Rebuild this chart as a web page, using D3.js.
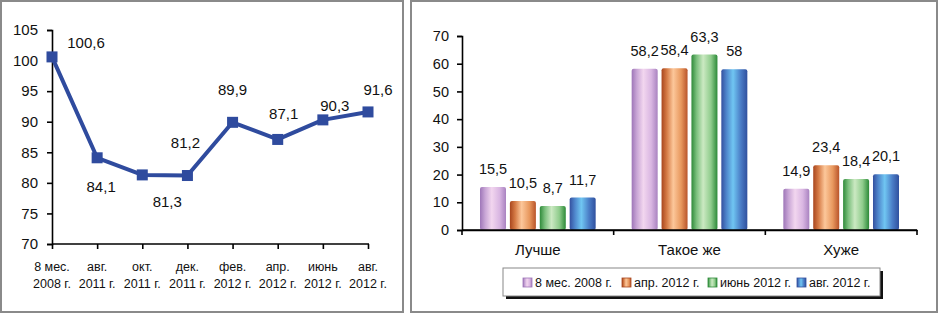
<!DOCTYPE html>
<html><head><meta charset="utf-8">
<script src="https://cdn.jsdelivr.net/npm/d3@7"></script>
<style>
html,body{margin:0;padding:0;background:#fff;}
svg{display:block;font-family:"Liberation Sans",Arial,sans-serif;}
</style></head>
<body>
<svg id="c" width="939" height="314"></svg>
<script>
// ---- Data: line chart ----
const lineCats = [["8 мес.","2008 г."],["авг.","2011 г."],["окт.","2011 г."],["дек.","2011 г."],["фев.","2012 г."],["апр.","2012 г."],["июнь","2012 г."],["авг.","2012 г."]];
const lineValues = [100.6, 84.1, 81.3, 81.2, 89.9, 87.1, 90.3, 91.6];
const lineTicks = [70, 75, 80, 85, 90, 95, 100, 105];
// label layout (offsets from point)
const lineLabelDx = [34, 4, 25, -2, 0, 6, 12, 10];
const lineLabelDy = [-14, 29, 27, -33, -32, -25, -14, -22];

// ---- Data: bar chart ----
const barCats = ["Лучше", "Такое же", "Хуже"];
const seriesNames = ["8 мес. 2008 г.", "апр. 2012 г.", "июнь 2012 г.", "авг. 2012 г."];
const s2008 = [15.5, 58.2, 14.9];
const sApr2012 = [10.5, 58.4, 23.4];
const sJun2012 = [8.7, 63.3, 18.4];
const sAug2012 = [11.7, 58, 20.1];
const barTicks = [0, 10, 20, 30, 40, 50, 60, 70];

const fmt = v => String(v).replace(".", ",");
const svg = d3.select("#c");

// panel frames
svg.append("rect").attr("x",1).attr("y",1).attr("width",402).attr("height",311)
  .attr("fill","#fff").attr("stroke","#8a8a8a").attr("stroke-width",2);
svg.append("rect").attr("x",411).attr("y",1).attr("width",526).attr("height",311)
  .attr("fill","#fff").attr("stroke","#8a8a8a").attr("stroke-width",2);

// ================= Line chart =================
{
  const g = svg.append("g");
  const x = d3.scalePoint().domain(d3.range(lineValues.length)).range([52, 368]).padding(0);
  const y = d3.scaleLinear().domain([70, 105]).range([244, 30]);

  const yAxis = g.append("g").attr("transform","translate(52,0)")
    .call(d3.axisLeft(y).tickValues(lineTicks).tickSize(5).tickPadding(9));
  const xAxis = g.append("g").attr("transform","translate(0,244)")
    .call(d3.axisBottom(x).tickSize(5).tickFormat(""));
  xAxis.select(".domain").attr("d","M52,0H369");
  [yAxis, xAxis].forEach(a => {
    a.select(".domain").attr("stroke","#000").attr("stroke-width",1.6);
    a.selectAll(".tick line").attr("stroke","#000").attr("stroke-width",1.6);
    a.selectAll("text").attr("font-size",15).attr("fill","#111")
      .attr("font-family","'Liberation Sans',Arial,sans-serif");
  });

  // x labels two lines
  const xl = g.append("g");
  lineCats.forEach((c, i) => {
    const t = xl.append("text").attr("x", x(i)).attr("y", 271)
      .attr("text-anchor","middle").attr("font-size",12.5).attr("fill","#111");
    t.append("tspan").attr("x", x(i)).attr("dy",0).text(c[0]);
    t.append("tspan").attr("x", x(i)).attr("dy",17).text(c[1]);
  });

  const line = d3.line().x((d,i)=>x(i)).y(d=>y(d));
  g.append("path").datum(lineValues).attr("d", line)
    .attr("fill","none").attr("stroke","#2f4b9e").attr("stroke-width",4)
    .attr("stroke-linejoin","round");
  g.selectAll("rect.m").data(lineValues).enter().append("rect")
    .attr("x",(d,i)=>x(i)-5.5).attr("y",d=>y(d)-5.5)
    .attr("width",11).attr("height",11).attr("fill","#2f4b9e");
  g.selectAll("text.lbl").data(lineValues).enter().append("text")
    .attr("x",(d,i)=>x(i)+lineLabelDx[i]).attr("y",(d,i)=>y(d)+lineLabelDy[i]+5)
    .attr("text-anchor","middle").attr("font-size",15).attr("fill","#111")
    .text(d=>fmt(d));
}

// ================= Bar chart =================
{
  const g = svg.append("g");
  const series = [s2008, sApr2012, sJun2012, sAug2012];
  const grads = [
    ["#9e76b8","#c9a6d6","#f2d6ef","#d9b6e2","#a982c0"],
    ["#a8461e","#d57a45","#fcc79a","#e8985e","#b9542a"],
    ["#2f8a3a","#7cc07e","#cbe9c2","#8fcc8c","#2c8a38"],
    ["#34509f","#4f86cc","#70c6f2","#4a7cc6","#30509e"]
  ];
  const defs = svg.append("defs");
  grads.forEach((c, k) => {
    const lg = defs.append("linearGradient").attr("id","bg"+k)
      .attr("x1","0").attr("x2","1").attr("y1","0").attr("y2","0");
    [0, 0.2, 0.45, 0.75, 1].forEach((o, j) => lg.append("stop").attr("offset", o).attr("stop-color", c[j]));
  });

  const x0 = d3.scaleBand().domain(barCats).range([462, 917]).padding(0);
  const x1 = d3.scaleBand().domain(d3.range(series.length))
    .range([18, x0.bandwidth() - 18]).paddingInner(0.13).paddingOuter(0);
  const y = d3.scaleLinear().domain([0, 70]).range([230, 36]);

  const yAxis = g.append("g").attr("transform","translate(462,0)")
    .call(d3.axisLeft(y).tickValues(barTicks).tickSize(5).tickPadding(8));
  const xAxis = g.append("g").attr("transform","translate(0,230)")
    .call(d3.axisBottom(x0).tickSize(0).tickPadding(14));
  // boundary ticks
  const bounds = [x0.range()[0], ...barCats.map(c => x0(c) + x0.bandwidth())];
  xAxis.selectAll("line.bt").data(bounds).enter().append("line")
    .attr("x1",d=>d).attr("x2",d=>d).attr("y1",0).attr("y2",5)
    .attr("stroke","#000").attr("stroke-width",1.6);
  [yAxis, xAxis].forEach(a => {
    a.select(".domain").attr("stroke","#000").attr("stroke-width",1.6);
    a.selectAll(".tick line").attr("stroke","#000").attr("stroke-width",1.6);
    a.selectAll("text").attr("font-size",14.5).attr("fill","#111")
      .attr("font-family","'Liberation Sans',Arial,sans-serif");
  });
  xAxis.selectAll(".tick text").attr("font-size",15);

  series.forEach((vals, k) => {
    const sg = g.append("g");
    sg.selectAll("rect").data(vals).enter().append("rect")
      .attr("x",(d,i)=>x0(barCats[i]) + x1(k))
      .attr("y",d=>y(d)).attr("width",x1.bandwidth())
      .attr("height",d=>y(0)-y(d)).attr("rx",2)
      .attr("fill","url(#bg"+k+")");
    sg.selectAll("text").data(vals).enter().append("text")
      .attr("x",(d,i)=>x0(barCats[i]) + x1(k) + x1.bandwidth()/2)
      .attr("y",d=>y(d)-13).attr("text-anchor","middle")
      .attr("font-size",14.5).attr("fill","#111").text(d=>fmt(d));
  });
  // redraw axis line on top
  g.append("line").attr("x1",462).attr("x2",917).attr("y1",230).attr("y2",230)
    .attr("stroke","#000").attr("stroke-width",1.6);

  // legend
  const lg = g.append("g");
  lg.append("rect").attr("x",506).attr("y",271).attr("width",377).attr("height",28).attr("fill","#111");
  lg.append("rect").attr("x",503).attr("y",268).attr("width",377).attr("height",28)
    .attr("fill","#fff").attr("stroke","#888").attr("stroke-width",1);
  const legX = [523, 622, 708, 797];
  seriesNames.forEach((n, k) => {
    lg.append("rect").attr("x",legX[k]).attr("y",278).attr("width",9).attr("height",9)
      .attr("fill","url(#bg"+k+")").attr("stroke",grads[k][0]).attr("stroke-width",0.8);
    lg.append("text").attr("x",legX[k]+12).attr("y",287).attr("font-size",12.5)
      .attr("fill","#111").text(n);
  });
}
</script>
</body></html>
